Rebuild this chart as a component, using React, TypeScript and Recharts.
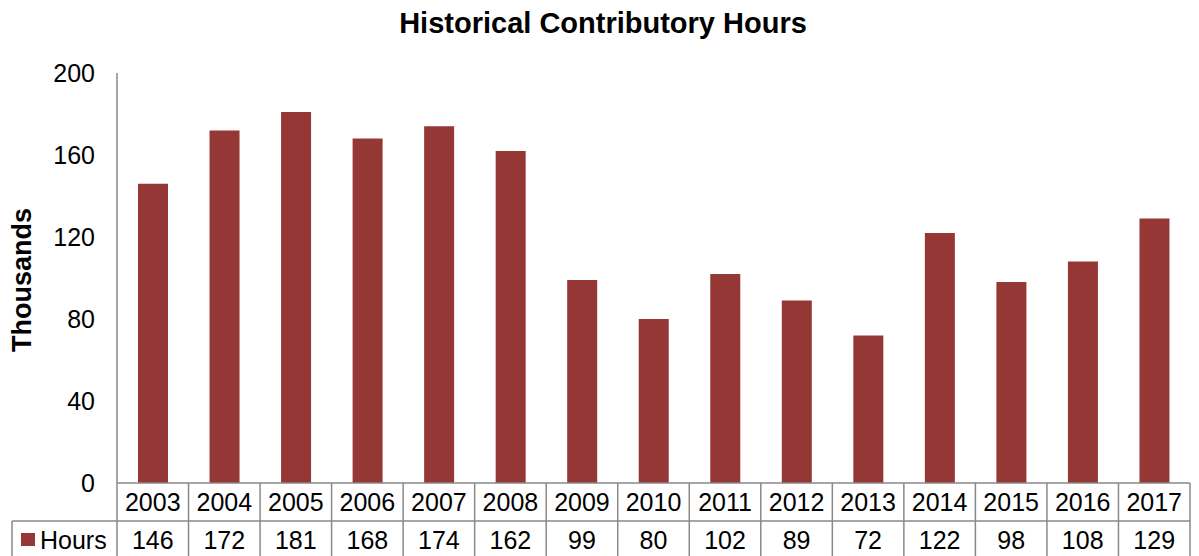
import React from 'react';
import { BarChart, Bar, XAxis, YAxis } from 'recharts';

// Chart data
const years = ['2003', '2004', '2005', '2006', '2007', '2008', '2009', '2010', '2011', '2012', '2013', '2014', '2015', '2016', '2017'];
const hours = [146, 172, 181, 168, 174, 162, 99, 80, 102, 89, 72, 122, 98, 108, 129];
const yTicks = [0, 40, 80, 120, 160, 200];
const seriesName = 'Hours';
const chartTitle = 'Historical Contributory Hours';
const yAxisTitle = 'Thousands';

const data = years.map((year, i) => ({ year, hours: hours[i] }));

// Layout
const W = 1199;
const H = 556;
const MARGIN = { top: 73, right: 9, left: 0, bottom: 0 };
const Y_AXIS_W = 117;
const X_AXIS_H = 73;
const BAND = (W - MARGIN.left - MARGIN.right - Y_AXIS_W) / years.length;
const ROW_H = 38;
const LEGEND_CELL_W = 105;

const FONT = '"Liberation Sans", Arial, sans-serif';
const BAR_COLOR = '#953735';
const GRID_COLOR = '#898989';

// Data table drawn under the axis: year row + value row, with borders
const TableTick = (props: any) => {
  const { x, y, payload, index } = props;
  const half = payload && payload.offset > 0 ? payload.offset : BAND / 2;
  const left = x - half;
  const right = x + half;
  const bottom = y + ROW_H * 2 + 4;
  const textStyle = { fontFamily: FONT, fontSize: 25, fill: '#000' };
  const lineProps = { stroke: GRID_COLOR, strokeWidth: 1.5 };
  return (
    <g>
      {index === 0 && <line x1={left} y1={y} x2={left} y2={bottom} {...lineProps} />}
      <line x1={right} y1={y} x2={right} y2={bottom} {...lineProps} />
      <line x1={left} y1={y + ROW_H} x2={right} y2={y + ROW_H} {...lineProps} />
      <text x={x} y={y + ROW_H / 2} textAnchor="middle" dominantBaseline="central" style={textStyle}>
        {payload.value}
      </text>
      <text x={x} y={y + ROW_H * 1.5} textAnchor="middle" dominantBaseline="central" style={textStyle}>
        {data[index].hours}
      </text>
      {index === 0 && (
        <g>
          <line x1={left - LEGEND_CELL_W} y1={y + ROW_H} x2={left} y2={y + ROW_H} {...lineProps} />
          <line x1={left - LEGEND_CELL_W} y1={y + ROW_H} x2={left - LEGEND_CELL_W} y2={bottom} {...lineProps} />
          <rect x={left - 96} y={y + ROW_H * 1.5 - 7} width={14} height={13} fill={BAR_COLOR} />
          <text x={left - 77} y={y + ROW_H * 1.5} textAnchor="start" dominantBaseline="central" style={textStyle}>
            {seriesName}
          </text>
        </g>
      )}
    </g>
  );
};

export default function App() {
  return (
    <div style={{ position: 'absolute', left: 0, top: 0, width: W, height: H, overflow: 'hidden', background: '#fff' }}>
      <div
        style={{
          position: 'absolute',
          left: 0,
          top: 9,
          width: W,
          textAlign: 'center',
          fontFamily: FONT,
          fontWeight: 'bold',
          fontSize: 29,
          lineHeight: '29px',
          color: '#000',
          paddingLeft: 7,
          boxSizing: 'border-box',
        }}
      >
        {chartTitle}
      </div>
      <div
        style={{
          position: 'absolute',
          left: 22 - 100,
          top: 280 - 15,
          width: 200,
          height: 30,
          lineHeight: '30px',
          textAlign: 'center',
          fontFamily: FONT,
          fontWeight: 'bold',
          fontSize: 27,
          color: '#000',
          transform: 'rotate(-90deg)',
          transformOrigin: 'center',
        }}
      >
        {yAxisTitle}
      </div>
      <BarChart width={W} height={H} data={data} margin={MARGIN}>
        <YAxis
          type="number"
          domain={[0, 200]}
          ticks={yTicks}
          width={Y_AXIS_W}
          axisLine={{ stroke: GRID_COLOR, strokeWidth: 1.5 }}
          tickLine={false}
          tickSize={0}
          tickMargin={22}
          tick={{ fontFamily: FONT, fontSize: 25, fill: '#000' }}
          interval={0}
        />
        <XAxis
          dataKey="year"
          type="category"
          height={X_AXIS_H}
          axisLine={{ stroke: GRID_COLOR, strokeWidth: 1.5 }}
          tickLine={false}
          tickSize={0}
          tickMargin={0}
          interval={0}
          tick={<TableTick />}
        />
        <Bar dataKey="hours" fill={BAR_COLOR} barSize={30} isAnimationActive={false} />
      </BarChart>
    </div>
  );
}
